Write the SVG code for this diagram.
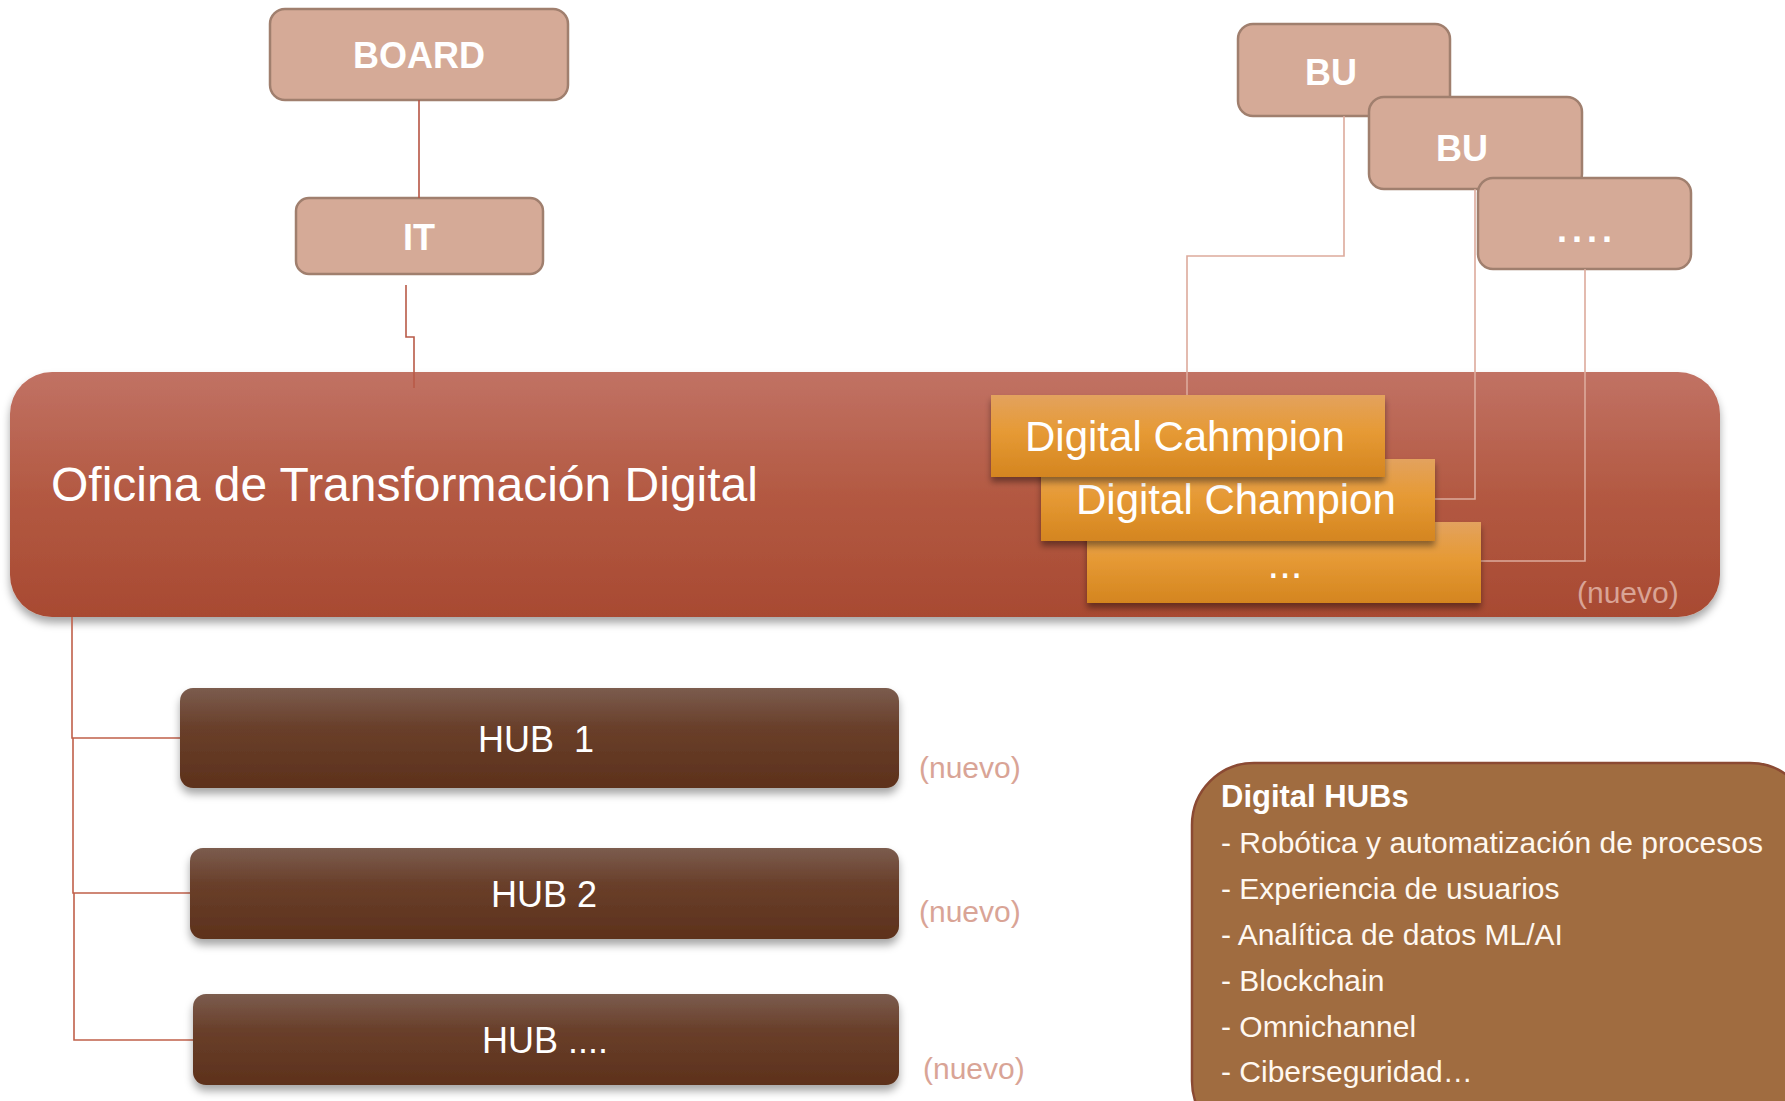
<svg xmlns="http://www.w3.org/2000/svg" width="1785" height="1101" viewBox="0 0 1785 1101">
<defs>
<linearGradient id="gOtd" x1="0" y1="0" x2="0" y2="1">
<stop offset="0" stop-color="#C17264"/>
<stop offset="0.5" stop-color="#B35942"/>
<stop offset="1" stop-color="#A84A32"/>
</linearGradient>
<linearGradient id="gDc" x1="0" y1="0" x2="0" y2="1">
<stop offset="0" stop-color="#E3A25E"/>
<stop offset="0.45" stop-color="#E69A35"/>
<stop offset="1" stop-color="#D4851F"/>
</linearGradient>
<linearGradient id="gHub" x1="0" y1="0" x2="0" y2="1">
<stop offset="0" stop-color="#7B5C4E"/>
<stop offset="0.4" stop-color="#693F2A"/>
<stop offset="1" stop-color="#5D311C"/>
</linearGradient>
<filter id="sh" x="-5%" y="-20%" width="110%" height="150%">
<feDropShadow dx="0" dy="6" stdDeviation="4" flood-color="#000" flood-opacity="0.35"/>
</filter>
<filter id="shs" x="-5%" y="-20%" width="110%" height="150%">
<feDropShadow dx="0" dy="5" stdDeviation="3" flood-color="#000" flood-opacity="0.4"/>
</filter>
</defs>
<style>
.top{fill:#D5AA97;stroke:#A07F6E;stroke-width:2.5}
.tt{font-family:"Liberation Sans",Arial,sans-serif;font-weight:bold;font-size:36px;fill:#FFFFFF;text-anchor:middle}
.dc{fill:url(#gDc)}
.dct{font-family:"Liberation Sans",Arial,sans-serif;font-size:42px;fill:#FFFFFF}
.hub{fill:url(#gHub)}
.ht{font-family:"Liberation Sans",Arial,sans-serif;font-size:36px;fill:#FFFFFF;text-anchor:middle}
.nv{font-family:"Liberation Sans",Arial,sans-serif;font-size:30px;fill:#D9A496}
.ln{fill:none;stroke-width:1.6}
.lt{font-family:"Liberation Sans",Arial,sans-serif;font-size:30px;fill:#FFF8F0}
</style>
<rect width="1785" height="1101" fill="#FFFFFF"/>

<g id="board">
<rect class="top" x="270" y="9" width="298" height="91" rx="15"/>
<text class="tt" x="419" y="68">BOARD</text>
</g>
<g id="it">
<rect class="top" x="296" y="198" width="247" height="76" rx="13"/>
<text class="tt" x="419" y="250">IT</text>
</g>
<g id="bu1">
<rect class="top" x="1238" y="24" width="212" height="92" rx="15"/>
<text class="tt" x="1331" y="85">BU</text>
</g>
<g id="bu2">
<rect class="top" x="1369" y="97" width="213" height="92" rx="15"/>
<text class="tt" x="1462" y="161">BU</text>
</g>
<g id="bu3">
<rect class="top" x="1478" y="178" width="213" height="91" rx="15"/>
<text class="tt" x="1587" y="242" letter-spacing="5">....</text>
</g>

<g id="otd">
<rect x="10" y="372" width="1710" height="245" rx="42" fill="url(#gOtd)" filter="url(#sh)"/>
<text x="51" y="501" font-family="'Liberation Sans',Arial,sans-serif" font-size="48" fill="#FFFFFF">Oficina de Transformación Digital</text>
<text class="nv" x="1577" y="603">(nuevo)</text>
</g>

<g id="connectors">
<path class="ln" stroke="#B65443" d="M419,100 V198"/>
<path class="ln" stroke="#B85A48" d="M406,285 V337 H414 V388"/>
<path class="ln" stroke="#DDAA9C" d="M1344,116 V256 H1187 V395"/>
<path class="ln" stroke="#DDAA9C" d="M1475,189 V499 H1434"/>
<path class="ln" stroke="#DDAA9C" d="M1585,269 V561 H1481"/>
<path class="ln" stroke="#C0604A" d="M72,617 V738 H180"/>
<path class="ln" stroke="#C0604A" d="M73,738 V893 H190"/>
<path class="ln" stroke="#C0604A" d="M74,893 V1040 H193"/>
</g>

<g id="dc3">
<rect class="dc" x="1087" y="522" width="394" height="81" filter="url(#shs)"/>
<text class="dct" x="1285" y="578" text-anchor="middle">...</text>
</g>
<g id="dc2">
<rect class="dc" x="1041" y="459" width="394" height="82" filter="url(#shs)"/>
<text class="dct" x="1076" y="514">Digital Champion</text>
</g>
<g id="dc1">
<rect class="dc" x="991" y="395" width="394" height="82" filter="url(#shs)"/>
<text class="dct" x="1025" y="451">Digital Cahmpion</text>
</g>

<g id="hub1">
<rect class="hub" x="180" y="688" width="719" height="100" rx="13" filter="url(#sh)"/>
<text class="ht" x="536" y="752" xml:space="preserve">HUB  1</text>
<text class="nv" x="919" y="778">(nuevo)</text>
</g>
<g id="hub2">
<rect class="hub" x="190" y="848" width="709" height="91" rx="13" filter="url(#sh)"/>
<text class="ht" x="544" y="907">HUB 2</text>
<text class="nv" x="919" y="922">(nuevo)</text>
</g>
<g id="hub3">
<rect class="hub" x="193" y="994" width="706" height="91" rx="13" filter="url(#sh)"/>
<text class="ht" x="545" y="1053">HUB ....</text>
<text class="nv" x="923" y="1079">(nuevo)</text>
</g>

<g id="digital-hubs">
<rect x="1192" y="763" width="620" height="380" rx="62" fill="#A06C40" stroke="#8B4A33" stroke-width="2.5"/>
<text x="1221" y="807" font-family="'Liberation Sans',Arial,sans-serif" font-size="31" font-weight="bold" fill="#FFFFFF">Digital HUBs</text>
<text class="lt" x="1221" y="853">- Robótica y automatización de procesos</text>
<text class="lt" x="1221" y="899">- Experiencia de usuarios</text>
<text class="lt" x="1221" y="945">- Analítica de datos ML/AI</text>
<text class="lt" x="1221" y="991">- Blockchain</text>
<text class="lt" x="1221" y="1037">- Omnichannel</text>
<text class="lt" x="1221" y="1082">- Ciberseguridad…</text>
</g>
</svg>
